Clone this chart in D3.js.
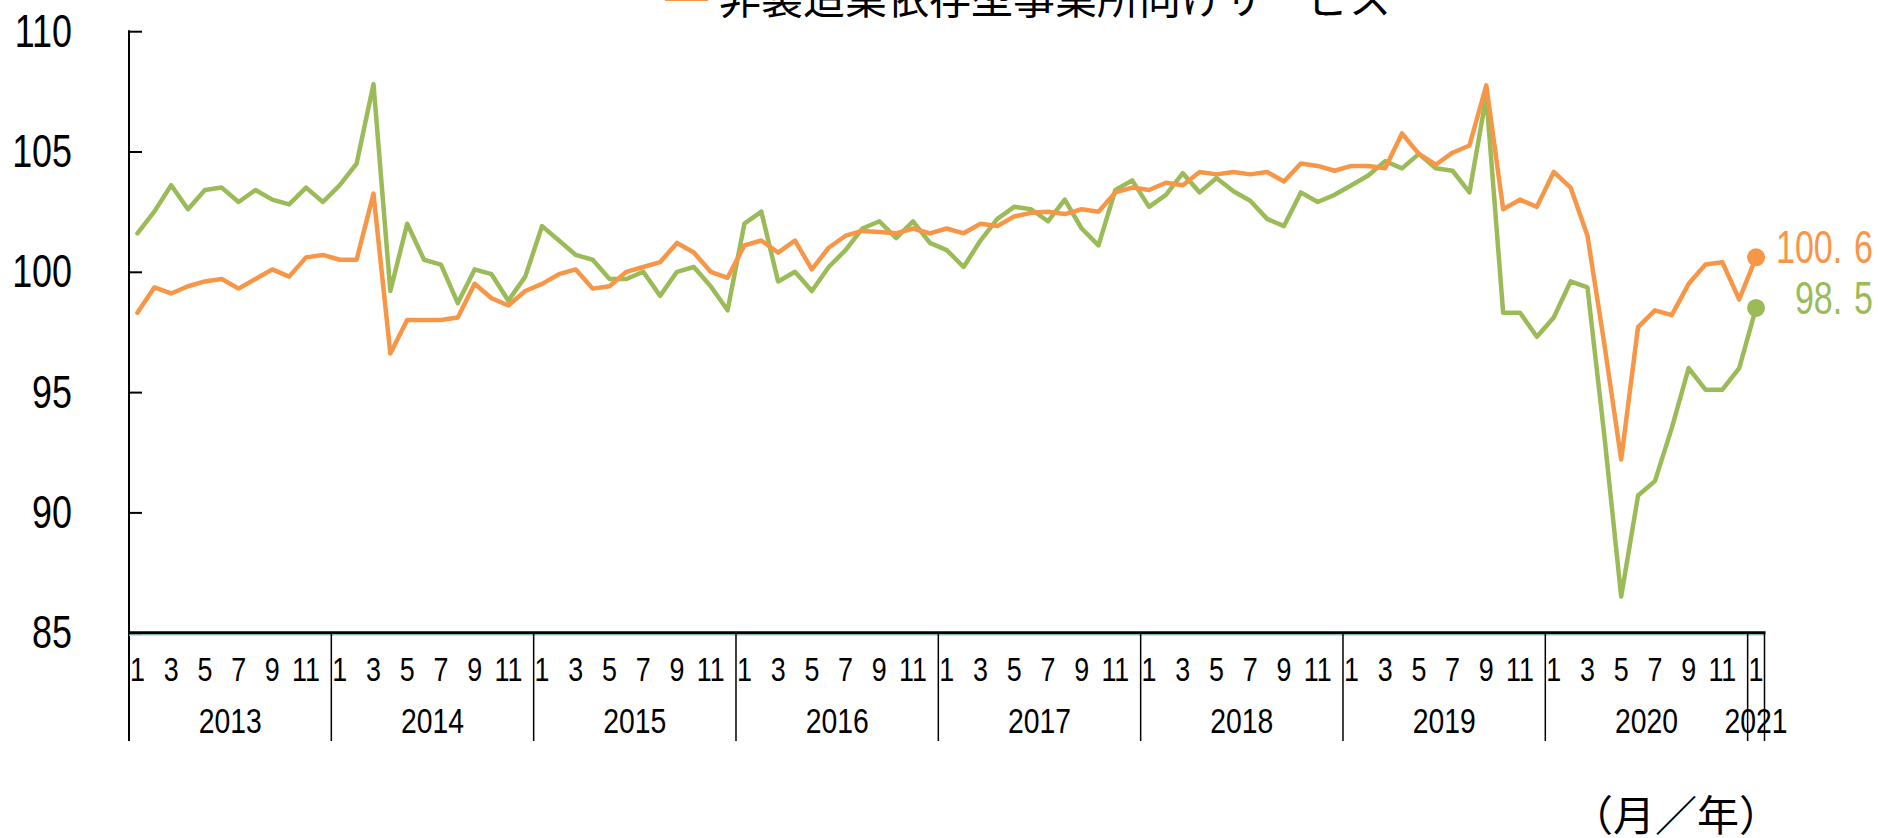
<!DOCTYPE html>
<html>
<head>
<meta charset="utf-8">
<script src="https://cdn.jsdelivr.net/npm/d3@7"></script>
<style>
  html, body { margin: 0; padding: 0; background: #fff; }
  svg { display: block; }
  .num { font-family: "Liberation Sans", Arial, sans-serif; }
  .cjk { font-family: "Noto Sans CJK JP", "Noto Sans CJK SC", sans-serif; }
</style>
</head>
<body>
<script>
// ---- data ----
const years = ["2013", "2014", "2015", "2016", "2017", "2018", "2019", "2020", "2021"];
const monthsInYear = [12, 12, 12, 12, 12, 12, 12, 12, 1];
const monthTickLabels = [1, 3, 5, 7, 9, 11];
const yTicks = [85, 90, 95, 100, 105, 110];

const seriesNames = ["製造業依存型事業所向けサービス", "非製造業依存型事業所向けサービス"];

const greenValues = [
  101.6, 102.5, 103.6, 102.6, 103.4, 103.5, 102.9, 103.4, 103.0, 102.8, 103.5, 102.9,
  103.6, 104.5, 107.8, 99.2, 102.0, 100.5, 100.3, 98.7, 100.1, 99.9, 98.8, 99.8,
  101.9, 101.3, 100.7, 100.5, 99.7, 99.7, 100.0, 99.0, 100.0, 100.2, 99.4, 98.4,
  102.0, 102.5, 99.6, 100.0, 99.2, 100.2, 100.9, 101.8, 102.1, 101.4, 102.1, 101.2,
  100.9, 100.2, 101.3, 102.2, 102.7, 102.6, 102.1, 103.0, 101.8, 101.1, 103.4, 103.8,
  102.7, 103.2, 104.1, 103.3, 103.9, 103.35, 102.95, 102.2, 101.9, 103.3, 102.9, 103.2,
  103.6, 104.0, 104.6, 104.3, 104.9, 104.3, 104.2, 103.3, 107.3, 98.3, 98.3, 97.3,
  98.1, 99.6, 99.35, 93.2, 86.5, 90.7, 91.3, 93.5, 96.0, 95.1, 95.1, 96.0,
  98.5
];

const orangeValues = [
  98.3, 99.35, 99.1, 99.4, 99.6, 99.7, 99.3, 99.7, 100.1, 99.8, 100.6, 100.7,
  100.5, 100.5, 103.25, 96.6, 98.0, 98.0, 98.0, 98.1, 99.5, 98.9, 98.6, 99.2,
  99.5, 99.9, 100.1, 99.3, 99.4, 100.0, 100.2, 100.4, 101.2, 100.8, 100.0, 99.75,
  101.1, 101.3, 100.8, 101.3, 100.1, 101.0, 101.5, 101.7, 101.65, 101.6, 101.8, 101.6,
  101.8, 101.6, 102.0, 101.9, 102.3, 102.45, 102.5, 102.4, 102.6, 102.5, 103.3, 103.5,
  103.4, 103.7, 103.6, 104.15, 104.05, 104.15, 104.05, 104.15, 103.75, 104.5, 104.4, 104.2,
  104.4, 104.4, 104.3, 105.75, 104.9, 104.45, 104.95, 105.25, 107.75, 102.6, 103.0, 102.7,
  104.15, 103.5, 101.5, 97.0, 92.2, 97.7, 98.4, 98.2, 99.5, 100.3, 100.4, 98.85,
  100.6
];

const endLabels = ["100.6", "98.5"];

// ---- build periods ----
const periods = [];
years.forEach((y, yi) => {
  for (let m = 1; m <= monthsInYear[yi]; m++) periods.push({ year: y, month: m, key: y + "-" + m });
});

// ---- layout ----
const W = 1879, H = 838;
const x0 = 129, x1 = 1764.5;
const yTop = 31.2, yBot = 632.7;
const orange = "#F79646", green = "#9BBB59";

const svg = d3.select("body").append("svg").attr("width", W).attr("height", H);

const x = d3.scaleBand().domain(periods.map(d => d.key)).range([x0, x1]).padding(0);
const cx = k => x(k) + x.bandwidth() / 2;
const y = d3.scaleLinear().domain([85, 110]).range([yBot, yTop]);

// y axis
const yAxis = d3.axisRight(y).tickValues(yTicks).tickSize(13).tickFormat("");
const gy = svg.append("g").attr("transform", `translate(${x0},0)`).call(yAxis);
gy.select(".domain").remove();
gy.selectAll(".tick line").attr("stroke", "#000").attr("stroke-width", 2);
svg.append("line").attr("x1", x0).attr("x2", x0).attr("y1", yTop - 1).attr("y2", 741)
  .attr("stroke", "#000").attr("stroke-width", 2);

svg.append("g").selectAll("text").data(yTicks).join("text")
  .attr("class", "num")
  .attr("transform", d => `translate(72,${y(d) + 15.5}) scale(0.78,1)`)
  .attr("text-anchor", "end").attr("font-size", 46).attr("fill", "#000")
  .text(d => d);

// x axis (category) line
svg.append("line").attr("x1", x0).attr("x2", x1).attr("y1", yBot + 2.4).attr("y2", yBot + 2.4)
  .attr("stroke", "#7ff0f0").attr("stroke-width", 1.2);
svg.append("line").attr("x1", x0).attr("x2", x1 + 1).attr("y1", yBot).attr("y2", yBot)
  .attr("stroke", "#000").attr("stroke-width", 3);

// year separators
const yearStarts = periods.filter(d => d.month === 1).map(d => x(d.key));
yearStarts.push(x1);
svg.append("g").selectAll("line").data(yearStarts.slice(1)).join("line")
  .attr("x1", d => d).attr("x2", d => d).attr("y1", yBot).attr("y2", 741)
  .attr("stroke", "#000").attr("stroke-width", 1.5);

// month tick labels
svg.append("g").selectAll("text")
  .data(periods.filter(d => monthTickLabels.includes(d.month)))
  .join("text").attr("class", "num")
  .attr("transform", d => `translate(${cx(d.key)},680.5) scale(0.79,1)`)
  .attr("text-anchor", "middle").attr("font-size", 34).attr("fill", "#000")
  .text(d => d.month);

// year labels
svg.append("g").selectAll("text").data(years).join("text").attr("class", "num")
  .attr("transform", d => {
    const ps = periods.filter(p => p.year === d);
    const cxy = (x(ps[0].key) + x(ps[ps.length - 1].key) + x.bandwidth()) / 2;
    return `translate(${cxy},732.7) scale(0.81,1)`;
  })
  .attr("text-anchor", "middle").attr("font-size", 35).attr("fill", "#000")
  .text(d => d);

// (月／年)
svg.append("text").attr("class", "cjk").attr("x", 1571).attr("y", 831)
  .attr("font-size", 42).attr("fill", "#000")
  .text("（月／年）");

// lines
const line = d3.line().x((d, i) => cx(periods[i].key)).y(d => y(d));
const series = [
  { name: seriesNames[0], values: greenValues, color: green, label: endLabels[1] },
  { name: seriesNames[1], values: orangeValues, color: orange, label: endLabels[0] }
];
series.forEach(s => {
  svg.append("path").datum(s.values).attr("d", line)
    .attr("fill", "none").attr("stroke", s.color).attr("stroke-width", 4.5)
    .attr("stroke-linejoin", "round").attr("stroke-linecap", "round");
});
series.forEach(s => {
  const last = s.values.length - 1;
  svg.append("circle").attr("cx", cx(periods[last].key)).attr("cy", y(s.values[last]))
    .attr("r", 9).attr("fill", s.color);
  const parts = s.label.split(".");
  const t = svg.append("text").attr("class", "num")
    .attr("transform", `translate(1873,${y(s.values[last]) + 6}) scale(0.74,1)`)
    .attr("text-anchor", "end").attr("font-size", 46).attr("fill", s.color);
  t.append("tspan").text(parts[0] + ".");
  t.append("tspan").attr("dx", 16).text(parts[1]);
});

// legend (partially cut at top)
svg.append("line").attr("x1", 665).attr("x2", 708).attr("y1", -1.3).attr("y2", -1.3)
  .attr("stroke", orange).attr("stroke-width", 4.5);
svg.append("text").attr("class", "cjk").attr("x", 719).attr("y", 14)
  .attr("font-size", 42).attr("fill", "#000").text(seriesNames[1]);
</script>
</body>
</html>
